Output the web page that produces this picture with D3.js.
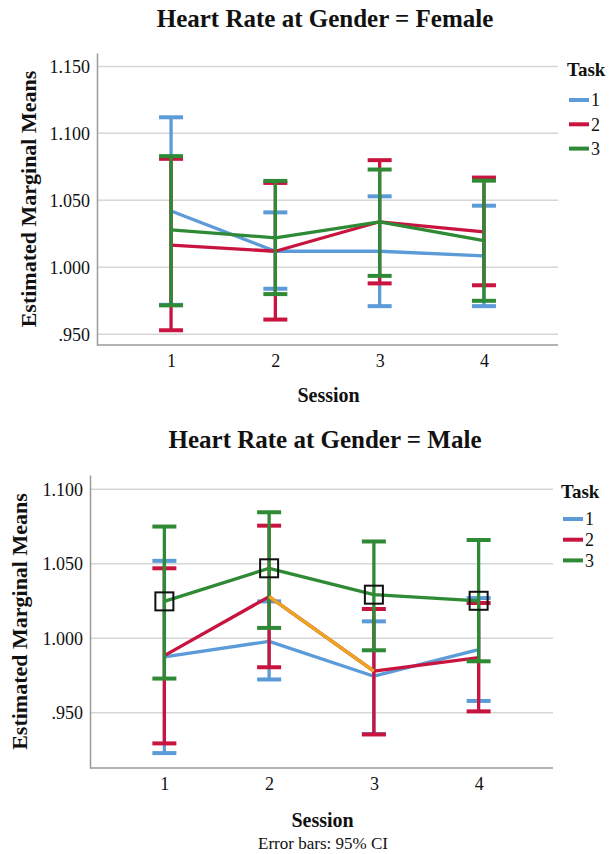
<!DOCTYPE html>
<html>
<head>
<meta charset="utf-8">
<script src="https://cdn.jsdelivr.net/npm/d3@7/dist/d3.min.js"></script>
<style>
  html, body { margin: 0; padding: 0; background: #fff; }
  svg { display: block; }
  text { font-family: "Liberation Serif", "Times New Roman", serif; fill: #111; }
</style>
</head>
<body>
<svg id="chart" width="610" height="854"></svg>
<script>
// Sessions on the x axis and the three task series
const sessions = ["1", "2", "3", "4"];
const tasks = ["1", "2", "3"];
const taskColors = ["#5b9bd8", "#c8143f", "#2f8a35"];

// Female: estimated marginal means with 95% CI, one row per task
const femaleMean  = [[1.042, 1.012, 1.012, 1.0085], [1.0165, 1.012, 1.034, 1.0265], [1.028, 1.022, 1.034, 1.020]];
const femaleLower = [[0.972, 0.984, 0.971, 0.971],  [0.953, 0.961, 0.988, 0.9866],  [0.9716, 0.980, 0.9936, 0.975]];
const femaleUpper = [[1.112, 1.041, 1.053, 1.046],  [1.081, 1.063, 1.080, 1.067],   [1.083, 1.0645, 1.073, 1.0647]];
const femaleTicks = [0.95, 1.00, 1.05, 1.10, 1.15];

// Male: estimated marginal means with 95% CI, one row per task
const maleMean  = [[0.9876, 0.998, 0.9746, 0.9924], [0.9884, 1.028, 0.978, 0.987],   [1.0248, 1.047, 1.0293, 1.0252]];
const maleLower = [[0.923, 0.9724, 0.9358, 0.958],  [0.9295, 0.9806, 0.9355, 0.951], [0.973, 1.007, 0.992, 0.9846]];
const maleUpper = [[1.052, 1.0248, 1.0114, 1.027],  [1.047, 1.0756, 1.0197, 1.0237], [1.075, 1.0846, 1.065, 1.066]];
const maleTicks = [0.95, 1.00, 1.05, 1.10];

// Marked points (task 3 in every session) and the highlighted task 2 segment
const maleMarkedTask = 2;
const maleHighlightTask = 1;
const maleHighlightSessions = ["2", "3"];

const svg = d3.select("#chart");
const fmt = v => d3.format(".3f")(v).replace(/^0\./, ".");
const serif = "'Liberation Serif', 'Times New Roman', serif";

function drawPanel(p) {
  const g = svg.append("g");
  const x = d3.scalePoint().domain(sessions).range([p.left, p.right]).padding(0.71);
  const y = d3.scaleLinear().domain(p.domain).range([p.bottom, p.top]);

  // title
  g.append("text").attr("x", 325).attr("y", p.titleY).attr("text-anchor", "middle")
    .style("font-size", "25px").style("font-weight", "bold").text(p.title);

  // gridlines
  g.selectAll(".grid").data(p.ticks).join("line")
    .attr("x1", p.left).attr("x2", p.right)
    .attr("y1", d => y(d)).attr("y2", d => y(d))
    .attr("stroke", "#d6d6d6").attr("stroke-width", 1.5);

  // y axis
  const yAxis = d3.axisLeft(y).tickValues(p.ticks).tickFormat(fmt).tickSize(0).tickPadding(7);
  const ya = g.append("g").attr("transform", `translate(${p.left},0)`).call(yAxis);
  ya.select(".domain").attr("stroke", "#9a9a9a").attr("stroke-width", 1.5);
  ya.selectAll("text").style("font-size", "18px").style("font-family", serif).attr("fill", "#111");

  // x axis
  const xAxis = d3.axisBottom(x).tickSize(0).tickPadding(p.xTickPad);
  const xa = g.append("g").attr("transform", `translate(0,${p.bottom})`).call(xAxis);
  xa.select(".domain").attr("stroke", "#9a9a9a").attr("stroke-width", 1.5).attr("d", `M${p.left},0H${p.right}`);
  xa.selectAll("text").style("font-size", "18px").style("font-family", serif).attr("fill", "#111");

  // axis titles
  g.append("text")
    .attr("transform", `translate(${p.yTitleX},${(p.top + p.bottom) / 2}) rotate(-90)`)
    .attr("text-anchor", "middle").attr("dy", "0.35em")
    .style("font-size", "22px").style("font-weight", "bold").text("Estimated Marginal Means");
  g.append("text").attr("x", (p.left + p.right) / 2 + 1).attr("y", p.sessionY).attr("text-anchor", "middle")
    .style("font-size", "20px").style("font-weight", "bold").text("Session");

  // series: error bars then lines, task by task
  const capW = 12;
  const line = d3.line().x((d, i) => x(sessions[i])).y(d => y(d));
  tasks.forEach((t, ti) => {
    const c = taskColors[ti];
    const s = g.append("g");
    const rows = sessions.map((ss, i) => ({ s: ss, m: p.mean[ti][i], lo: p.lower[ti][i], hi: p.upper[ti][i] }));
    s.selectAll(".bar").data(rows).join("line")
      .attr("x1", d => x(d.s)).attr("x2", d => x(d.s))
      .attr("y1", d => y(d.lo)).attr("y2", d => y(d.hi))
      .attr("stroke", c).attr("stroke-width", 3.3);
    s.selectAll(".capHi").data(rows).join("line")
      .attr("x1", d => x(d.s) - capW).attr("x2", d => x(d.s) + capW)
      .attr("y1", d => y(d.hi)).attr("y2", d => y(d.hi))
      .attr("stroke", c).attr("stroke-width", 4);
    s.selectAll(".capLo").data(rows).join("line")
      .attr("x1", d => x(d.s) - capW).attr("x2", d => x(d.s) + capW)
      .attr("y1", d => y(d.lo)).attr("y2", d => y(d.lo))
      .attr("stroke", c).attr("stroke-width", 4);
    s.append("path").datum(p.mean[ti]).attr("d", line)
      .attr("fill", "none").attr("stroke", c).attr("stroke-width", 3.3).attr("stroke-linejoin", "round");
  });

  // highlighted segment
  if (p.highlightTask !== undefined) {
    const idx = p.highlightSessions.map(s => sessions.indexOf(s));
    const seg = idx.map(i => [x(sessions[i]), y(p.mean[p.highlightTask][i])]);
    g.append("path").attr("d", d3.line()(seg))
      .attr("fill", "none").attr("stroke", "#eba520").attr("stroke-width", 3.3);
  }

  // marked points
  if (p.markedTask !== undefined) {
    const sz = 18;
    g.selectAll(".mark").data(p.mean[p.markedTask]).join("rect")
      .attr("x", (d, i) => x(sessions[i]) - sz / 2).attr("y", d => y(d) - sz / 2)
      .attr("width", sz).attr("height", sz)
      .attr("fill", "none").attr("stroke", "#111").attr("stroke-width", 2);
  }

  // legend
  const lg = g.append("g");
  lg.append("text").attr("x", p.legendX).attr("y", p.legendTitleY)
    .style("font-size", "19px").style("font-weight", "bold").text("Task");
  tasks.forEach((t, ti) => {
    const yy = p.legendY0 + ti * p.legendStep;
    lg.append("line").attr("x1", p.legendX + 2).attr("x2", p.legendX + 22)
      .attr("y1", yy).attr("y2", yy).attr("stroke", taskColors[ti]).attr("stroke-width", 4);
    lg.append("text").attr("x", p.legendX + 24).attr("y", yy).attr("dy", "0.35em")
      .style("font-size", "18px").text(t);
  });
}

drawPanel({
  title: "Heart Rate at Gender = Female", titleY: 27,
  left: 97, right: 558, top: 53, bottom: 345, domain: [0.942, 1.160],
  ticks: femaleTicks, mean: femaleMean, lower: femaleLower, upper: femaleUpper,
  yTitleX: 28, sessionY: 402, xTickPad: 9,
  legendX: 567, legendTitleY: 76, legendY0: 100, legendStep: 24.3
});

drawPanel({
  title: "Heart Rate at Gender = Male", titleY: 448,
  left: 90, right: 553, top: 475, bottom: 768, domain: [0.913, 1.1096],
  ticks: maleTicks, mean: maleMean, lower: maleLower, upper: maleUpper,
  yTitleX: 19, sessionY: 827, xTickPad: 9,
  legendX: 561, legendTitleY: 498, legendY0: 519, legendStep: 20.7,
  markedTask: maleMarkedTask, highlightTask: maleHighlightTask, highlightSessions: maleHighlightSessions
});

svg.append("text").attr("x", 323).attr("y", 849).attr("text-anchor", "middle")
  .style("font-size", "17px").text("Error bars: 95% CI");
</script>
</body>
</html>
